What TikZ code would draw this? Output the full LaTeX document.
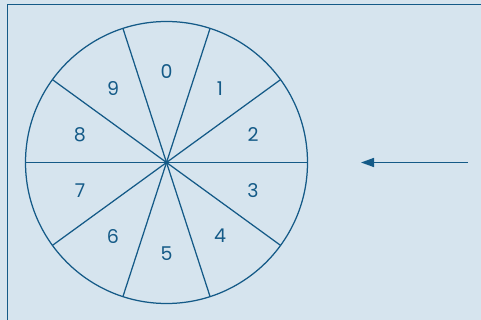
\documentclass[tikz,border=0pt]{standalone}
\usepackage{fontspec}
\setmainfont{Poppins}
\usetikzlibrary{arrows.meta,calc}
\definecolor{bg}{HTML}{D6E4EE}
\definecolor{ln}{HTML}{145A87}
\begin{document}
\begin{tikzpicture}[x=1pt,y=-1pt,
  wheel/.style={draw=ln,line width=1.25pt},
  digit/.style={text=ln,font=\fontsize{19}{19}\selectfont,inner sep=0pt},
  pointer/.style={draw=ln,line width=1.5pt,-{Triangle[length=13pt,width=9pt]}}]
\useasboundingbox (0,0) rectangle (481,320);
\fill[bg] (0,0) rectangle (481,320);
\draw[ln,line width=1.5pt] (7.5,320) -- (7.5,4.5) -- (481,4.5);
\coordinate (c) at (166.5,162.5);
\draw[wheel] (c) circle (141);
\foreach \a in {0,36,72,108,144}{
  \draw[wheel] ($(c)+(\a:141)$) -- ($(c)+(\a+180:141)$);
}
\foreach \d/\a in {0/90,1/54,2/18,3/-18,4/-54,5/-90,6/-126,7/-162,8/162,9/126}{
  \node[digit] (d\d) at ($(c)+(-\a:91)$) {\d};
}
\coordinate (tail) at (468,162.5);
\coordinate (tip) at (361,162.5);
\draw[pointer] (tail) -- (tip);
\end{tikzpicture}
\end{document}
